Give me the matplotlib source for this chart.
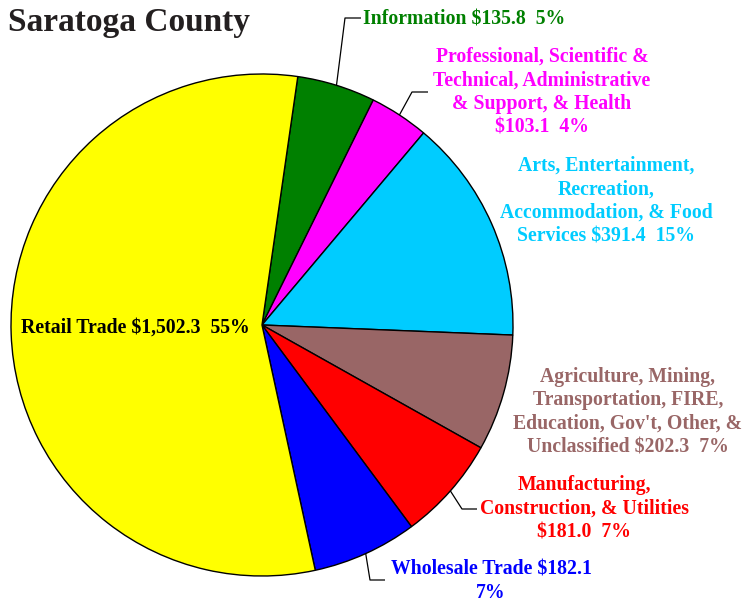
import numpy as np
import matplotlib
matplotlib.use("Agg")
import matplotlib.pyplot as plt

categories = ["Information",
              "Professional, Scientific &\nTechnical, Administrative\n& Support, & Health",
              "Arts, Entertainment,\nRecreation,\nAccommodation, & Food\nServices",
              "Agriculture, Mining,\nTransportation, FIRE,\nEducation, Gov't, Other, &\nUnclassified",
              "Manufacturing,\nConstruction, & Utilities",
              "Wholesale Trade",
              "Retail Trade"]
values = [135.8, 103.1, 391.4, 202.3, 181.0, 182.1, 1502.3]
value_text = ["$135.8", "$103.1", "$391.4", "$202.3", "$181.0", "$182.1", "$1,502.3"]
pct_text = ["5%", "4%", "15%", "7%", "7%", "7%", "55%"]
colors = ["#008000", "#FF00FF", "#00CCFF", "#996666", "#FF0000", "#0000FF", "#FFFF00"]
label_colors = ["#008000", "#FF00FF", "#00CCFF", "#996666", "#FF0000", "#0000FF", "#000000"]

W, H = 745, 604
fig = plt.figure(figsize=(W / 100, H / 100), dpi=100)
ax = fig.add_axes([0, 0, 1, 1])

cx, cy, R = 262, 325, 251
wedges, _ = ax.pie(values, colors=colors, startangle=81.8, counterclock=False,
                   center=(cx, H - cy), radius=R, frame=True,
                   wedgeprops=dict(edgecolor="black", linewidth=1.0))
ax.set_xlim(0, W)
ax.set_ylim(0, H)
ax.set_aspect("equal")
ax.axis("off")

font = dict(family="Liberation Serif", fontweight="bold", fontsize=14.2)

def P(x, y):
    return (x, H - y)

def edge_point(w):
    ang = np.deg2rad((w.theta1 + w.theta2) / 2)
    return (cx + R * np.cos(ang), H - cy + R * np.sin(ang))

texts = [
    (categories[0] + " " + value_text[0] + "  " + pct_text[0], (363, 19), "left"),
    (categories[1] + "\n" + value_text[1] + "  " + pct_text[1], (542, 92), "center"),
    (categories[2] + " " + value_text[2] + "  " + pct_text[2], (606, 201), "center"),
    (categories[3] + " " + value_text[3] + "  " + pct_text[3], (628, 412), "center"),
    (categories[4] + "\n" + value_text[4] + "  " + pct_text[4], (584, 509), "center"),
    (categories[5] + " " + value_text[5] + "\n" + pct_text[5], (491, 581), "center"),
    (categories[6] + " " + value_text[6] + "  " + pct_text[6], (135, 328), "center"),
]
for i, (t, (x, y), ha) in enumerate(texts):
    ax.text(*P(x, y), t, color=label_colors[i], ha=ha, va="center",
            linespacing=1.24, **font)

leaders = {0: ((345, 18), (361, 18)),
           1: ((412, 92), (428, 92)),
           4: ((462, 509), (477, 509)),
           5: ((370, 580), (385, 580))}
for i, (knee, end) in leaders.items():
    sx, sy = edge_point(wedges[i])
    kx, ky = P(*knee)
    ex, ey = P(*end)
    ax.plot([sx, kx, ex], [sy, ky, ey], color="black", lw=0.9, solid_capstyle="butt")

ax.text(*P(8, 22), "Saratoga County", color="#231f20", ha="left", va="center",
        family="Liberation Serif", fontweight="bold", fontsize=24)

fig.savefig("out.png", dpi=100)
